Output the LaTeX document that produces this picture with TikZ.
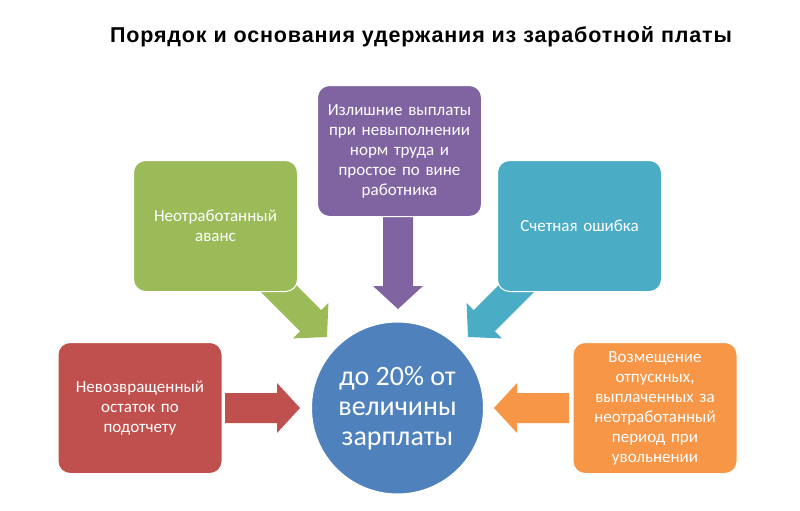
\documentclass[tikz,border=0pt]{standalone}
\usepackage{fontspec}
\setmainfont{Carlito}
\newfontfamily\titlefont[LetterSpace=4]{Liberation Sans}
\begin{document}
\begin{tikzpicture}[x=1pt,y=-1pt,
  box/.style={rounded corners=12pt, draw=white, line width=1pt, minimum width=164pt, minimum height=131pt,
     inner sep=4pt, text=white, align=center, font=\fontsize{17}{20}\selectfont, text width=150pt},
  hub/.style={circle, fill=circblue, draw=white, line width=1pt, minimum size=172pt, text=white, align=center,
     font=\fontsize{28}{30}\selectfont}]
\definecolor{cgreen}{HTML}{9BBB59}
\definecolor{cpurple}{HTML}{8064A2}
\definecolor{cteal}{HTML}{4BACC6}
\definecolor{cred}{HTML}{C0504D}
\definecolor{corange}{HTML}{F79646}
\definecolor{circblue}{HTML}{4F81BD}
\useasboundingbox (0,0) rectangle (800,511);
\fill[white] (0,0) rectangle (800,511);
\newcommand\blockarr[4]{%
  \fill[#4, shift={(#1)}, rotate=#3] (0,-15) -- (#2-23,-15) -- (#2-23,-25) -- (#2,0) -- (#2-23,25) -- (#2-23,15) -- (0,15) -- cycle;}
% arrows (behind boxes)
\coordinate (ag) at (270,280);
\coordinate (at) at (525,280);
\coordinate (ap) at (398,216);
\coordinate (ar) at (225,408);
\coordinate (ao) at (569,408);
\blockarr{ag}{80.6}{-45}{cgreen}
\blockarr{at}{80.6}{-135}{cteal}
\blockarr{ap}{93}{-90}{cpurple}
\blockarr{ar}{75}{0}{cred}
\blockarr{ao}{75}{180}{corange}
% title
\node[font=\titlefont\bfseries\fontsize{21.5}{25}\selectfont, anchor=base, inner sep=0pt] (title) at (421,42.3) {Порядок и основания удержания из заработной платы};
% boxes
\node[box, fill=cgreen] (green) at (215.5,226) {Неотработанный\\аванс};
\node[box, fill=cpurple] (purple) at (399.5,151) {Излишние выплаты\\при невыполнении\\норм труда и\\простое по вине\\работника};
\node[box, fill=cteal] (teal) at (579.5,226) {Счетная ошибка};
\node[box, fill=cred] (red) at (140,408) {Невозвращенный\\остаток по\\подотчету};
\node[box, fill=corange] (orange) at (655,408) {Возмещение\\отпускных,\\выплаченных за\\неотработанный\\период при\\увольнении};
\node[hub] (hub) at (397.5,408) {до 20\% от\\величины\\зарплаты};
\end{tikzpicture}
\end{document}
